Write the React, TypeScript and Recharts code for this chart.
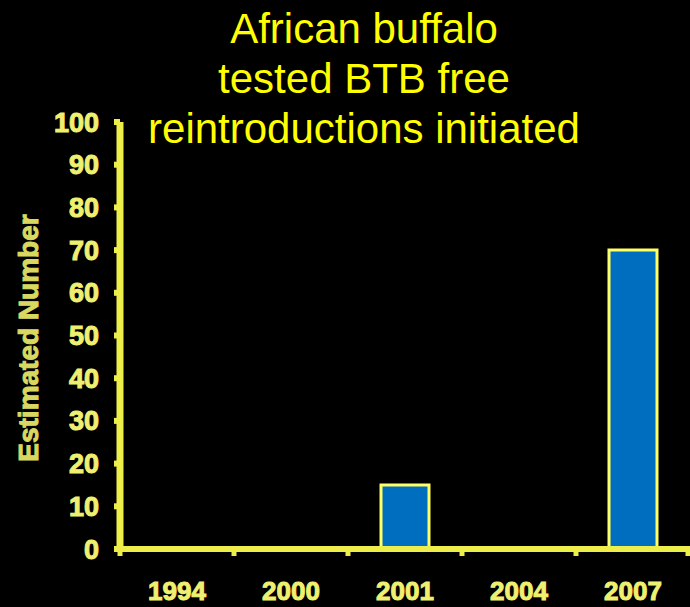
import React from "react";
import { BarChart, Bar, XAxis, YAxis } from "recharts";

const years = ["1994", "2000", "2001", "2004", "2007"];
const estimated = [0, 0, 15, 0, 70];
const yTicks = [0, 10, 20, 30, 40, 50, 60, 70, 80, 90, 100];
const titleLines = ["African buffalo", "tested BTB free", "reintroductions initiated"];
const yTitle = "Estimated Number";

const data = years.map((y, i) => ({ year: y, value: estimated[i] }));

const W = 690;
const H = 607;
const AXIS = "#EEEE4A";
const TXT = "#F0F070";
const FONT = "'Liberation Sans', Arial, sans-serif";

const XTick = (props: any) => {
  const { x, y, payload, index } = props;
  const off = payload && payload.offset ? payload.offset : 56.7;
  const marks = [x - off];
  if (index === years.length - 1) marks.push(x + off - 2);
  return (
    <g>
      {marks.map((mx, i) => (
        <line key={i} x1={mx} x2={mx} y1={y + 2} y2={y + 7} stroke={AXIS} strokeWidth={5} />
      ))}
      <text
        x={x}
        y={y + 51}
        textAnchor="middle"
        fill={TXT}
        stroke={TXT}
        strokeWidth={1}
        fontSize={26}
        fontWeight="bold"
        fontFamily={FONT}
      >
        {payload.value}
      </text>
    </g>
  );
};

export default function App() {
  return (
    <div style={{ position: "absolute", left: 0, top: 0, width: W, height: H, background: "#000" }}>
      <BarChart
        width={W}
        height={H}
        data={data}
        margin={{ top: 122, right: 0, left: 0, bottom: 0 }}
        barCategoryGap={0}
      >
        <XAxis
          dataKey="year"
          height={58}
          tickSize={0}
          tickMargin={0}
          tickLine={false}
          axisLine={{ stroke: AXIS, strokeWidth: 6 }}
          tick={<XTick />}
          interval={0}
        />
        <YAxis
          width={120}
          domain={[0, 100]}
          ticks={yTicks}
          interval={0}
          tickSize={6}
          tickMargin={15}
          axisLine={{ stroke: AXIS, strokeWidth: 7 }}
          tickLine={{ stroke: AXIS, strokeWidth: 6 }}
          tick={{ fill: TXT, stroke: TXT, strokeWidth: 1, fontSize: 27, fontWeight: "bold", fontFamily: FONT }}
        />
        <Bar
          dataKey="value"
          fill="#006EBF"
          stroke="#FFFF66"
          strokeWidth={3}
          barSize={48}
          isAnimationActive={false}
        />
      </BarChart>
      <svg
        width={W}
        height={H}
        style={{ position: "absolute", left: 0, top: 0, pointerEvents: "none" }}
      >
        {titleLines.map((t, i) => (
          <text
            key={i}
            x={364}
            y={43 + i * 50}
            textAnchor="middle"
            fill="#FFFF00"
            fontSize={42}
            fontFamily={FONT}
          >
            {t}
          </text>
        ))}
        <text
          x={0}
          y={0}
          transform="translate(38,338) rotate(-90)"
          textAnchor="middle"
          fill="#D8D860"
          stroke="#D8D860"
          strokeWidth={1}
          fontSize={28}
          fontWeight="bold"
          fontFamily={FONT}
        >
          {yTitle}
        </text>
      </svg>
    </div>
  );
}
